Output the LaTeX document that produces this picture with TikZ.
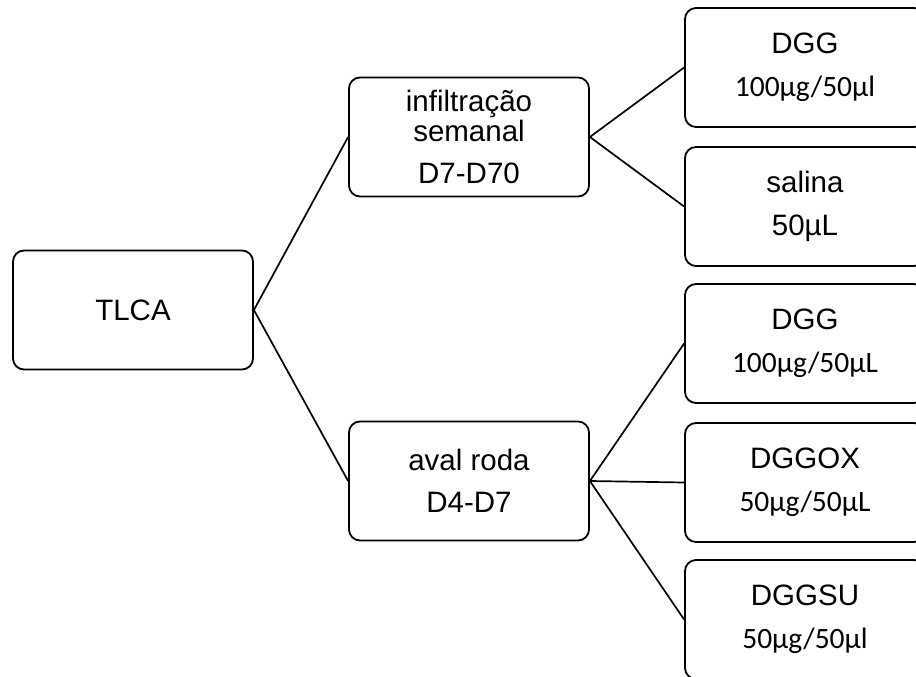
\documentclass[tikz,border=0pt]{standalone}
\usepackage{fontspec}
\setmainfont{Liberation Sans}
\newfontfamily\calfont{Carlito}
\begin{document}
\begin{tikzpicture}[x=1pt,y=1pt,
  box/.style={draw, line width=1.8pt, rounded corners=11pt, minimum width=240pt,
    minimum height=119pt, align=center, inner sep=0pt, font=\fontsize{29.5}{34}\selectfont},
  link/.style={line width=1.7pt}]
\useasboundingbox (0,0) rectangle (916,-677);
\clip (0,0) rectangle (916,-677);
\node[box] (tlca) at (133,-310) {TLCA};
\node[box] (inf) at (469,-137) {infiltração\\[-4pt]semanal\\[8pt]D7-D70};
\node[box] (aval) at (469,-481) {aval roda\\[8pt]D4-D7};
\node[box] (dgga) at (805,-67.5) {DGG\\[9pt]{\calfont 100µg/50µl}};
\node[box] (sal) at (805,-206.5) {salina\\[9pt]50µL};
\node[box] (dggb) at (805,-343.5) {DGG\\[9pt]{\calfont 100µg/50µL}};
\node[box] (ox) at (805,-482.5) {DGGOX\\[9pt]{\calfont 50µg/50µL}};
\node[box] (su) at (805,-619.5) {DGGSU\\[9pt]{\calfont 50µg/50µl}};
\draw[link] (tlca.east) -- (inf.west);
\draw[link] (tlca.east) -- (aval.west);
\draw[link] (inf.east) -- (dgga.west);
\draw[link] (inf.east) -- (sal.west);
\draw[link] (aval.east) -- (dggb.west);
\draw[link] (aval.east) -- (ox.west);
\draw[link] (aval.east) -- (su.west);
\end{tikzpicture}
\end{document}
